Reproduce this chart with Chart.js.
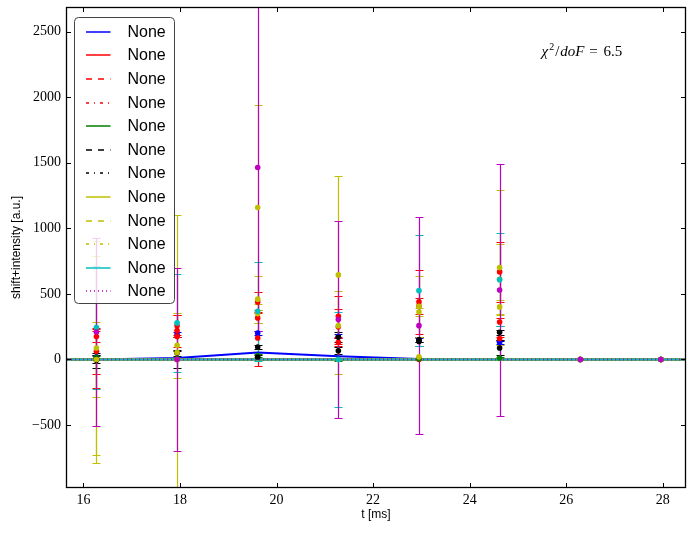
<!DOCTYPE html>
<html>
<head>
  <title>shift+intensity fit</title>
  <script src="https://cdn.jsdelivr.net/npm/chart.js"></script>
  <style>
    html, body {
      margin: 0;
      padding: 0;
      background-color: #FFFFFF;
    }

    .chart-container {
      position: relative;
      width: 697px;
      height: 533px;
    }
  </style>
</head>
<body>
  <div class="chart-container">
    <canvas id="fitChart" width="697" height="533"></canvas>
  </div>

  <script>
    // time points of the measured data [ms]
    const times = [16.27, 17.94, 19.61, 21.28, 22.95, 24.62, 26.29, 27.96];
    // the fit curves are sampled a bit wider so they run into the frame
    const fitTimes = [15.0, 16.27, 17.94, 19.61, 21.28, 22.95, 24.62, 26.29, 27.96, 29.5];

    const xTicks = [16, 18, 20, 22, 24, 26, 28];
    const yTicks = [-500, 0, 500, 1000, 1500, 2000, 2500];

    const seriesLabels = ['None', 'None', 'None', 'None', 'None', 'None',
                          'None', 'None', 'None', 'None', 'None', 'None'];

    // fit curves, one row per legend entry
    const blueFit = [0, 0, 12, 54, 24, 3, 0, 0, 0, 0];
    const flatFit = [0, 0, 0, 0, 0, 0, 0, 0, 0, 0];
    const fitValues = [blueFit, flatFit, flatFit, flatFit, flatFit, flatFit,
                       flatFit, flatFit, flatFit, flatFit, flatFit, flatFit];

    // measured points and their errors, one row per series
    const pointValues = [
      [20, 190, 202, 176, 150, 131, 0, 0],
      [62, 258, 439, 329, 439, 668, 0, 0],
      [175, 220, 317, 131, 408, 286, 0, 0],
      [10, 176, 164, 250, 0, 160, 0, 0],
      [16, 5, 30, 0, 5, 11, 0, 0],
      [4, 50, 95, 67, 138, 207, 0, 0],
      [-6, 0, 19, 170, 150, 88, 0, 0],
      [0, 54, 1159, 645, 405, 701, 0, 0],
      [88, 108, 350, 258, 362, 401, 0, 0],
      [0, 0, 460, 0, 20, 612, 0, 0],
      [243, 279, 367, 0, 525, 609, 0, 0],
      [210, 0, 1464, 304, 258, 530, 0, 0]
    ];
    const pointErrors = [
      [12, 20, 15, 15, 15, 12, 0, 0],
      [172, 85, 76, 155, 246, 229, 0, 0],
      [45, 122, 40, 30, 61, 33, 0, 0],
      [230, 8, 216, 133, 0, 12, 0, 0],
      [10, 10, 12, 10, 10, 10, 0, 0],
      [28, 25, 15, 25, 36, 20, 0, 0],
      [58, 65, 12, 38, 20, 57, 0, 0],
      [790, 1050, 784, 755, 230, 593, 0, 0],
      [815, 249, 70, 265, 30, 55, 0, 0],
      [283, 0, 180, 0, 0, 270, 0, 0],
      [471, 376, 377, 365, 425, 357, 0, 0],
      [720, 698, 1250, 752, 830, 960, 0, 0]
    ];

    const colors = ['#0000FF', '#FF0000', '#FF0000', '#FF0000', '#008000', '#000000',
                    '#000000', '#BFBF00', '#BFBF00', '#BFBF00', '#00BFBF', '#BF00BF'];
    const SOLID = [];
    const DASHED = [6, 6];
    const DASHDOT = [3, 5, 1, 5];
    const DOTTED = [1, 3];
    const dashes = [SOLID, SOLID, DASHED, DASHDOT, SOLID, DASHED,
                    DASHDOT, SOLID, DASHED, DASHDOT, SOLID, DOTTED];

    const serif = '"Liberation Serif", "DejaVu Serif", serif';
    const sans = '"Liberation Sans", Arial, sans-serif';

    // vertical error bars with caps, drawn under the points
    const errorBarPlugin = {
      id: 'errorBars',
      beforeDatasetsDraw(chart) {
        const { ctx, chartArea } = chart;
        const xs = chart.scales.x;
        const ys = chart.scales.y;
        ctx.save();
        ctx.beginPath();
        ctx.rect(chartArea.left, chartArea.top, chartArea.width, chartArea.height);
        ctx.clip();
        ctx.lineWidth = 1.2;
        pointValues.forEach((vals, i) => {
          ctx.strokeStyle = colors[i];
          vals.forEach((v, j) => {
            const err = pointErrors[i][j];
            if (!err) return;
            const px = Math.round(xs.getPixelForValue(times[j])) + 0.5;
            const top = Math.round(ys.getPixelForValue(v + err)) + 0.5;
            const bot = Math.round(ys.getPixelForValue(v - err)) + 0.5;
            ctx.beginPath();
            ctx.moveTo(px, top);
            ctx.lineTo(px, bot);
            ctx.moveTo(px - 4, top);
            ctx.lineTo(px + 4, top);
            ctx.moveTo(px - 4, bot);
            ctx.lineTo(px + 4, bot);
            ctx.stroke();
          });
        });
        ctx.restore();
      }
    };

    // frame with inward ticks on all four sides, plus the chi^2 note
    const framePlugin = {
      id: 'frame',
      afterDatasetsDraw(chart) {
        const { ctx, chartArea } = chart;
        const { left, right, top, bottom } = chartArea;
        const xs = chart.scales.x;
        const ys = chart.scales.y;
        ctx.save();
        ctx.strokeStyle = '#000000';
        ctx.lineWidth = 1;
        ctx.setLineDash([]);
        ctx.beginPath();
        xTicks.forEach((v) => {
          const px = Math.round(xs.getPixelForValue(v)) + 0.5;
          ctx.moveTo(px, bottom);
          ctx.lineTo(px, bottom - 5);
          ctx.moveTo(px, top);
          ctx.lineTo(px, top + 5);
        });
        yTicks.forEach((v) => {
          const py = Math.round(ys.getPixelForValue(v)) + 0.5;
          ctx.moveTo(left, py);
          ctx.lineTo(left + 5, py);
          ctx.moveTo(right, py);
          ctx.lineTo(right - 5, py);
        });
        ctx.stroke();
        ctx.lineWidth = 1.3;
        ctx.strokeRect(left + 0.5, top + 0.5, right - left - 1, bottom - top - 1);

        // chi^2 / doF note
        let tx = left + (right - left) * 0.767;
        const base = top + (bottom - top) * 0.102;
        const parts = [
          { t: 'χ', f: 'italic 15px ' + serif, dy: 0 },
          { t: '2', f: '10px ' + serif, dy: -6 },
          { t: '/', f: '15px ' + serif, dy: 0 },
          { t: 'doF', f: 'italic 15px ' + serif, dy: 0 },
          { t: ' = ', f: '15px ' + serif, dy: 0 },
          { t: '6.5', f: '15px ' + serif, dy: 0 }
        ];
        ctx.fillStyle = '#000000';
        ctx.textBaseline = 'alphabetic';
        parts.forEach((p) => {
          ctx.font = p.f;
          ctx.fillText(p.t, tx, base + p.dy);
          tx += ctx.measureText(p.t).width + (p.t === ' = ' ? 2 : 1);
        });
        ctx.restore();
      }
    };

    // matplotlib style legend box in the upper left of the axes
    const legendPlugin = {
      id: 'boxLegend',
      afterDraw(chart) {
        const { ctx, chartArea } = chart;
        const boxX = chartArea.left + 8.5;
        const boxY = chartArea.top + 10.5;
        const boxW = 100;
        const boxH = 286;
        ctx.save();
        ctx.beginPath();
        if (ctx.roundRect) {
          ctx.roundRect(boxX, boxY, boxW, boxH, 4);
        } else {
          ctx.rect(boxX, boxY, boxW, boxH);
        }
        ctx.fillStyle = 'rgba(255, 255, 255, 0.8)';
        ctx.fill();
        ctx.strokeStyle = '#444444';
        ctx.lineWidth = 1;
        ctx.stroke();

        ctx.font = '16px ' + sans;
        ctx.textBaseline = 'middle';
        ctx.lineWidth = 1.5;
        seriesLabels.forEach((label, i) => {
          const cy = Math.round(boxY + 14.2 + i * 23.6);
          ctx.strokeStyle = colors[i];
          ctx.setLineDash(dashes[i]);
          ctx.beginPath();
          ctx.moveTo(boxX + 11.5, cy);
          ctx.lineTo(boxX + 36, cy);
          ctx.stroke();
          ctx.fillStyle = '#000000';
          ctx.fillText(label, boxX + 53, cy + 1);
        });
        ctx.restore();
      }
    };

    const datasets = [];
    fitValues.forEach((vals, i) => {
      datasets.push({
        label: seriesLabels[i],
        data: fitTimes.map((t, j) => ({ x: t, y: vals[j] })),
        showLine: true,
        borderColor: colors[i],
        borderWidth: 2,
        borderDash: dashes[i],
        pointRadius: 0,
        order: 12 + (11 - i)
      });
    });
    pointValues.forEach((vals, i) => {
      datasets.push({
        label: seriesLabels[i] + ' data',
        data: times.map((t, j) => ({ x: t, y: vals[j] })),
        showLine: false,
        backgroundColor: colors[i],
        borderColor: colors[i],
        pointRadius: 2.8,
        pointBorderWidth: 0,
        order: 11 - i
      });
    });

    const ctx = document.getElementById('fitChart').getContext('2d');
    window.chart = new Chart(ctx, {
      type: 'scatter',
      data: { datasets: datasets },
      options: {
        responsive: false,
        animation: false,
        layout: { padding: { top: 7, right: 11, left: 0, bottom: 0 } },
        plugins: {
          legend: { display: false },
          tooltip: { enabled: false }
        },
        scales: {
          x: {
            type: 'linear',
            min: 15.64,
            max: 28.48,
            afterBuildTicks: (scale) => { scale.ticks = xTicks.map((v) => ({ value: v })); },
            afterFit: (scale) => {
              scale.height = 45;
              scale.paddingLeft = 0;
              scale.paddingRight = 0;
            },
            grid: { display: false, drawTicks: false },
            border: { display: false },
            ticks: {
              color: '#000000',
              padding: 4,
              maxRotation: 0,
              font: { family: serif, size: 14 }
            },
            title: {
              display: true,
              text: 't [ms]',
              color: '#000000',
              padding: { top: 0, bottom: 11 },
              font: { family: sans, size: 12 }
            }
          },
          y: {
            type: 'linear',
            min: -980,
            max: 2688,
            afterBuildTicks: (scale) => { scale.ticks = yTicks.map((v) => ({ value: v })); },
            afterFit: (scale) => {
              scale.width = 66;
              scale.paddingTop = 0;
              scale.paddingBottom = 0;
            },
            grid: { display: false, drawTicks: false },
            border: { display: false },
            ticks: {
              color: '#000000',
              padding: 5,
              font: { family: serif, size: 14 },
              callback: (value) => (value < 0 ? '\u2212' + Math.abs(value) : String(value))
            },
            title: {
              display: true,
              text: 'shift+intensity [a.u.]',
              color: '#000000',
              padding: { top: 9, bottom: 0 },
              font: { family: sans, size: 12 }
            }
          }
        }
      },
      plugins: [errorBarPlugin, framePlugin, legendPlugin]
    });
  </script>
</body>
</html>
